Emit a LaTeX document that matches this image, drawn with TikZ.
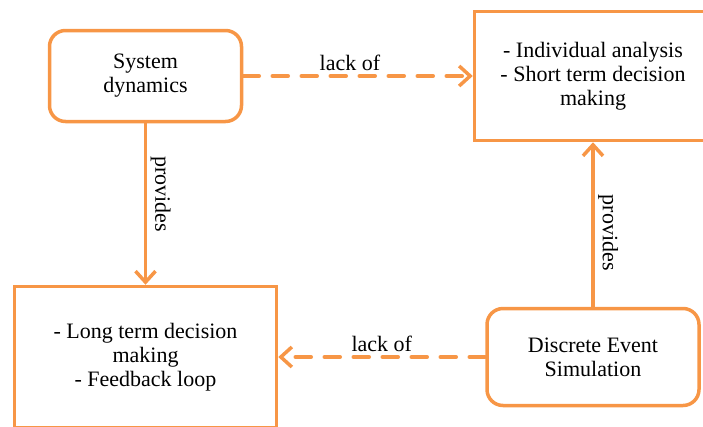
\documentclass[tikz,border=0pt]{standalone}
\usepackage{fontspec}
\setmainfont{Liberation Serif}
\newfontfamily\diagfont{Liberation Serif}
\usetikzlibrary{arrows.meta}
\definecolor{boxorange}{HTML}{F79646}

\begin{document}
\begin{tikzpicture}[x = 1pt, y = 1pt,
        every node/.style = {font = \diagfont\fontsize{22}{24}\selectfont, text = black},
        roundbox/.style = {draw = boxorange, line width = 3.5pt, rounded corners = 16pt, align = center},
        squarebox/.style = {draw = boxorange, line width = 3.5pt, align = center},
        link/.style = {draw = boxorange, line width = 3.5pt, line cap = round, -{Straight Barb[length = 11pt, width = 20pt]}},
        lack/.style = {link, dash pattern = on 16pt off 13pt},
        lacklabel/.style = {above, inner sep = 4pt},
        provlabel/.style = {rotate = -90, anchor = south}]
        \useasboundingbox (0, 0) rectangle (703, -426);
        \clip (0, 0) rectangle (703, -426);

        \node [roundbox, minimum width = 192pt, minimum height = 91pt] (sd) at (145.5, -76) {System\\dynamics};
        \node [squarebox, minimum width = 237pt, minimum height = 129pt] (st) at (593, -76) {- Individual analysis\\- Short term decision\\making};
        \node [squarebox, minimum width = 262pt, minimum height = 141pt] (lt) at (145.5, -357) {- Long term decision\\making\\- Feedback loop};
        \node [roundbox, minimum width = 212pt, minimum height = 97pt] (des) at (593, -357) {Discrete Event\\Simulation};

        \draw [link] (sd) -- (lt) node [provlabel, pos = 0.44] {provides};
        \draw [link] (des) -- (st) node [provlabel, pos = 0.45] {provides};
        \draw [lack] (sd) -- (st) node [lacklabel, pos = 0.465] {lack of};
        \draw [lack] (des) -- (lt) node [lacklabel, midway] {lack of};
\end{tikzpicture}
\end{document}
